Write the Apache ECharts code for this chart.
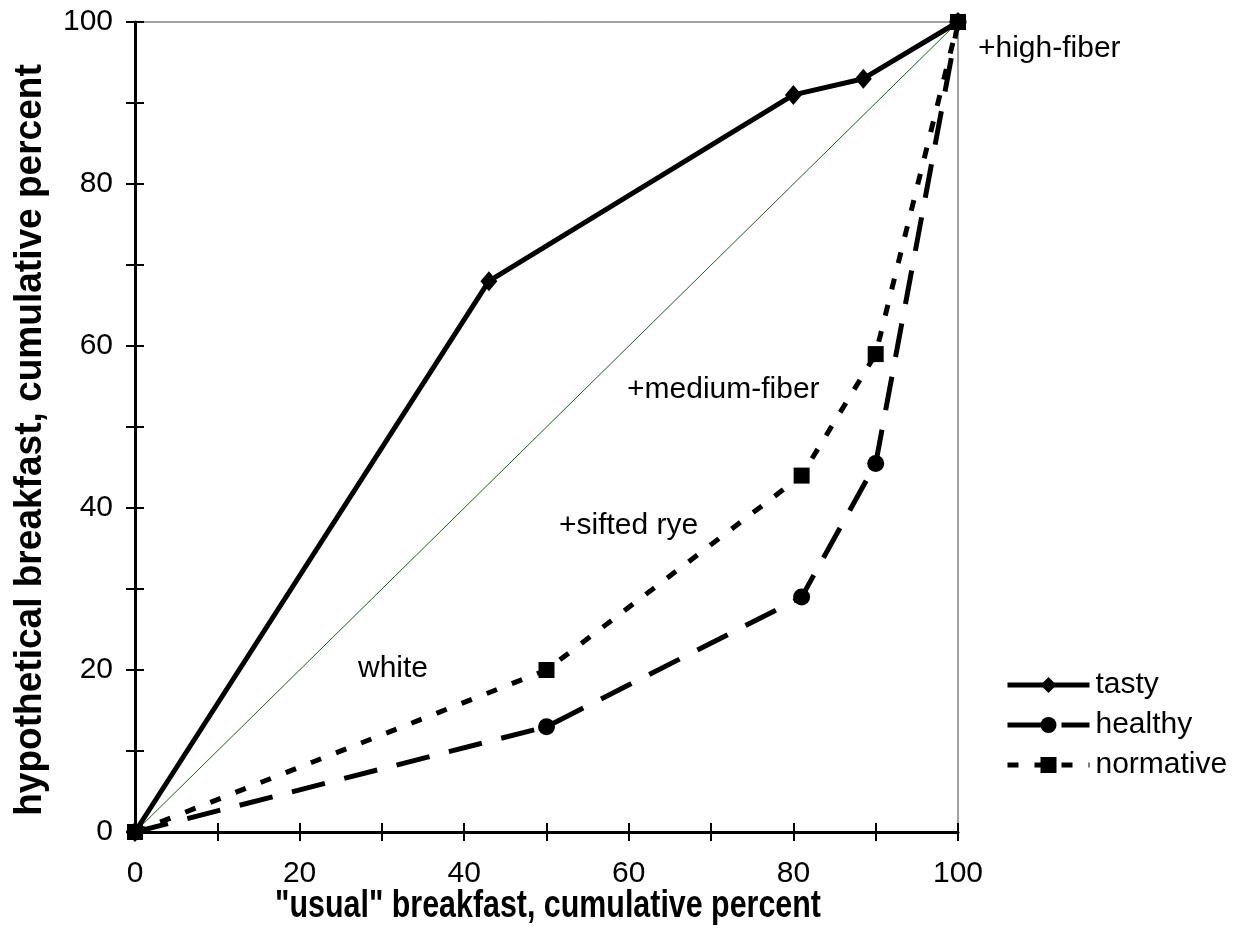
<!DOCTYPE html>
<html>
<head>
<meta charset="utf-8">
<script src="https://cdn.jsdelivr.net/npm/echarts@6/dist/echarts.min.js"></script>
<style>
html, body { margin: 0; padding: 0; background: #fff; }
#chart { width: 1247px; height: 950px; }
</style>
</head>
<body>
<div id="chart"></div>
<script>
var dom = document.getElementById("chart");
var myChart = echarts.init(dom);

// cumulative percent, "usual" breakfast (x) vs hypothetical (y)
var tastyX = [0, 43, 80, 88.5, 100];
var tastyY = [0, 68, 91, 93, 100];
var healthyX = [0, 50, 81, 90, 100];
var healthyY = [0, 13, 29, 45.5, 100];
var normX = [0, 50, 81, 90, 100];
var normY = [0, 20, 44, 59, 100];
var diagX = [0, 100];
var diagY = [0, 100];
var seriesNames = ['tasty', 'healthy', 'normative'];
var notes = ['+high-fiber', '+medium-fiber', '+sifted rye', 'white'];
var xTitle = '"usual" breakfast, cumulative percent';
var yTitle = 'hypothetical breakfast, cumulative percent';

function pairs(xs, ys) {
    return xs.map(function (x, i) { return [x, ys[i]]; });
}

var font = '"Liberation Sans", Arial, sans-serif';

function valAxis(pos, margin) {
    return {
        type: 'value',
        position: pos,
        min: 0,
        max: 100,
        interval: 10,
        splitLine: { show: false },
        axisLine: { show: true, onZero: false, lineStyle: { color: '#000', width: 3 } },
        axisTick: { show: true, length: 9, lineStyle: { color: '#000', width: 2 } },
        axisLabel: {
            margin: margin,
            color: '#000',
            fontSize: 30,
            fontFamily: font,
            formatter: function (v) { return v % 20 === 0 ? v : ''; }
        }
    };
}

// second axis on the same side, only for the inner half of the ticks
function innerAxis(pos) {
    return {
        type: 'value', min: 0, max: 100, interval: 10, position: pos,
        splitLine: { show: false },
        axisLine: { show: false },
        axisLabel: { show: false },
        axisTick: { show: true, inside: true, length: 9, lineStyle: { color: '#000', width: 2 } }
    };
}

var lineW = 5;

option = {
    backgroundColor: '#fff',
    animation: false,
    grid: {
        left: 135, right: 289, top: 22, bottom: 118,
        show: true, borderColor: '#444', borderWidth: 1, backgroundColor: 'transparent'
    },
    xAxis: [valAxis('bottom', 27), innerAxis('bottom')],
    yAxis: [valAxis('left', 22), innerAxis('left')],
    legend: {
        orient: 'vertical',
        left: 1005,
        top: 670,
        padding: 0,
        itemWidth: 82,
        itemHeight: 20,
        itemGap: 10,
        selectedMode: false,
        data: seriesNames,
        lineStyle: { width: 5 },
        textStyle: { color: '#000', fontSize: 30, fontFamily: font, padding: [0, 0, 0, 1] }
    },
    graphic: [
        { type: 'text', left: 978, top: 34, style: { text: notes[0], fill: '#000', font: '30px ' + font } },
        { type: 'text', left: 627, top: 375, style: { text: notes[1], fill: '#000', font: '30px ' + font } },
        { type: 'text', left: 559, top: 511, style: { text: notes[2], fill: '#000', font: '30px ' + font } },
        { type: 'text', left: 358, top: 654, style: { text: notes[3], fill: '#000', font: '30px ' + font } },
        {
            type: 'text', x: 548, y: 907, scaleX: 0.8,
            style: { text: xTitle, fill: '#000', font: 'bold 38px ' + font, textAlign: 'center', textVerticalAlign: 'middle' }
        },
        {
            type: 'text', x: 30, y: 440, rotation: Math.PI / 2, scaleX: 0.95,
            style: { text: yTitle, fill: '#000', font: 'bold 39px ' + font, textAlign: 'center', textVerticalAlign: 'middle' }
        }
    ],
    series: [
        {
            name: 'diagonal',
            type: 'line',
            data: pairs(diagX, diagY),
            symbol: 'none',
            silent: true,
            lineStyle: { color: '#1f5f1f', width: 1 },
            z: 1
        },
        {
            name: seriesNames[0],
            type: 'line',
            data: pairs(tastyX, tastyY),
            symbol: 'diamond',
            symbolSize: [17, 20],
            color: '#000',
            itemStyle: { color: '#000' },
            lineStyle: { color: '#000', width: lineW, type: 'solid' },
            z: 3
        },
        {
            name: seriesNames[1],
            type: 'line',
            data: pairs(healthyX, healthyY),
            symbol: 'circle',
            symbolSize: 17,
            color: '#000',
            itemStyle: { color: '#000' },
            lineStyle: { color: '#000', width: lineW, type: [34, 20] },
            z: 3
        },
        {
            name: seriesNames[2],
            type: 'line',
            data: pairs(normX, normY),
            symbol: 'rect',
            symbolSize: 16,
            color: '#000',
            itemStyle: { color: '#000' },
            lineStyle: { color: '#000', width: lineW, type: [11, 16] },
            z: 4
        }
    ]
};

if (option && typeof option === "object") {
    myChart.setOption(option, true);
}
</script>
</body>
</html>
